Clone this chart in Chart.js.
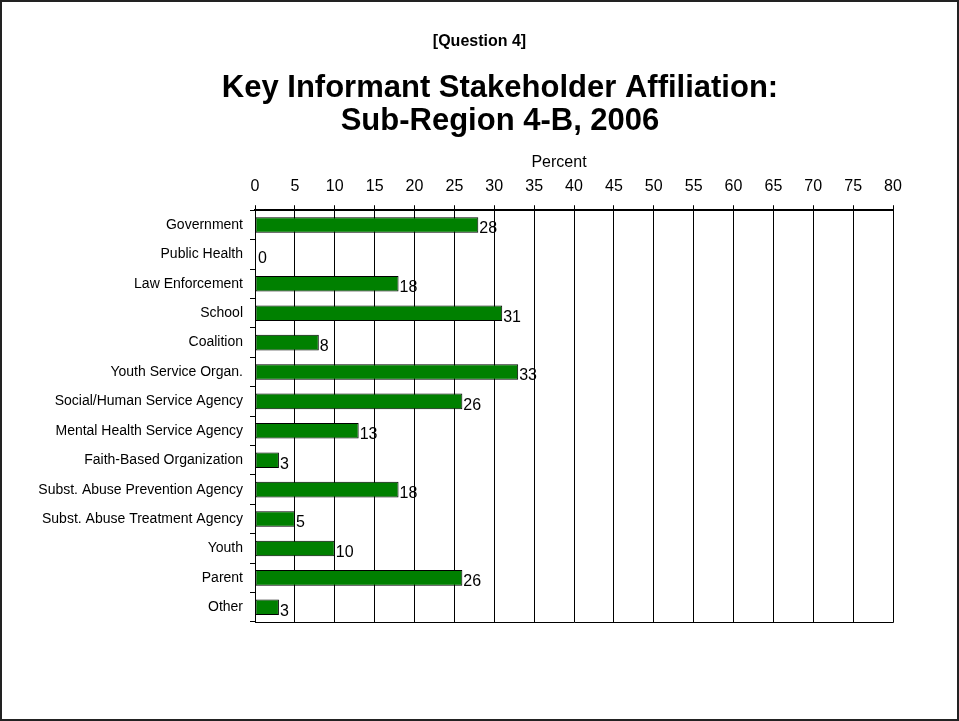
<!DOCTYPE html>
<html>
<head>
<meta charset="utf-8">
<script src="https://cdn.jsdelivr.net/npm/chart.js@4/dist/chart.umd.min.js"></script>
<style>
html,body{margin:0;padding:0;background:#fff;}
#wrap{position:absolute;left:0;top:0;width:959px;height:721px;}
</style>
</head>
<body>
<div id="wrap"><canvas id="c" width="959" height="721"></canvas></div>
<script>
const categories = [
  "Government","Public Health","Law Enforcement","School","Coalition",
  "Youth Service Organ.","Social/Human Service Agency","Mental Health Service Agency",
  "Faith-Based Organization","Subst. Abuse Prevention Agency","Subst. Abuse Treatment Agency",
  "Youth","Parent","Other"
];
const percentValues = [28,0,18,31,8,33,26,13,3,18,5,10,26,3];
const xTickValues = [0,5,10,15,20,25,30,35,40,45,50,55,60,65,70,75,80];
const questionLabel = "[Question 4]";
const titleLines = ["Key Informant Stakeholder Affiliation:","Sub-Region 4-B, 2006"];
const axisTitle = "Percent";

const FONT = "'Liberation Sans', Arial, Helvetica, sans-serif";

const decorPlugin = {
  id: 'decor',
  afterLayout(chart) {
    chart.boxes.forEach(b => {
      if (b.options && typeof b.options.text === 'string' && b.options.text === questionLabel) {
        b.left = 0; b.right = chart.width;
      } else if (b.options && Array.isArray(b.options.text)) {
        b.left = 41; b.right = chart.width;
      }
    });
    const sc = chart.scales.x;
    if (sc && !sc._shifted) {
      const orig = sc.drawTitle.bind(sc);
      sc.drawTitle = function () {
        const ctx = this.ctx;
        ctx.save();
        ctx.translate(-15, 0);
        orig();
        ctx.restore();
      };
      sc._shifted = true;
    }
  },
  afterDatasetsDraw(chart) {
    const ctx = chart.ctx;
    const area = chart.chartArea;
    ctx.save();
    const meta = chart.getDatasetMeta(0);
    ctx.font = "16px " + FONT;
    ctx.fillStyle = "#000";
    ctx.textAlign = "left";
    ctx.textBaseline = "middle";
    meta.data.forEach((bar, i) => {
      const gap = percentValues[i] === 0 ? 3 : 1;
      ctx.fillText(String(percentValues[i]), bar.x + gap, bar.y + 4);
    });
    ctx.strokeStyle = "#000";
    ctx.lineWidth = 1;
    ctx.beginPath();
    ctx.moveTo(area.left, Math.round(area.bottom) + 0.5);
    ctx.lineTo(area.right + 0.5, Math.round(area.bottom) + 0.5);
    ctx.lineTo(area.right + 0.5, area.top);
    ctx.stroke();
    ctx.lineWidth = 2;
    ctx.strokeStyle = "#222";
    ctx.strokeRect(1, 1, chart.width - 2, chart.height - 2);
    ctx.restore();
  }
};

new Chart(document.getElementById('c'), {
  type: 'bar',
  data: {
    labels: categories,
    datasets: [{
      data: percentValues,
      backgroundColor: '#008000',
      borderColor: '#000',
      borderWidth: 1,
      borderSkipped: false,
      categoryPercentage: 1,
      barPercentage: 0.53
    }]
  },
  options: {
    indexAxis: 'y',
    responsive: false,
    animation: false,
    devicePixelRatio: 1,
    layout: { padding: { left: 20, right: 66, top: 0, bottom: 99 } },
    plugins: {
      legend: { display: false },
      tooltip: { enabled: false },
      title: {
        display: true,
        text: questionLabel,
        color: '#000',
        font: { family: FONT, size: 16, weight: 'bold', lineHeight: 1.2 },
        padding: { top: 32, bottom: 0 }
      },
      subtitle: {
        display: true,
        text: titleLines,
        color: '#000',
        font: { family: FONT, size: 31, weight: 'bold', lineHeight: 1.065 },
        padding: { top: 21, bottom: 8 }
      }
    },
    scales: {
      x: {
        position: 'top',
        min: 0,
        max: 80,
        afterBuildTicks(scale) { scale.ticks = xTickValues.map(v => ({ value: v })); },
        afterFit(scale) { scale.height = 64; },
        ticks: { color: '#000', font: { family: FONT, size: 16 }, padding: 9, maxRotation: 0, autoSkip: false },
        grid: { color: '#000', lineWidth: 1, tickLength: 5, drawTicks: true },
        border: { display: true, color: '#000', width: 2 },
        title: { display: true, text: axisTitle, color: '#000', font: { family: FONT, size: 16 }, padding: { top: 7, bottom: 0 } }
      },
      y: {
        afterFit(scale) { scale.width = 235; },
        ticks: { color: '#000', font: { family: FONT, size: 14 }, padding: 7, autoSkip: false },
        grid: { drawOnChartArea: false, drawTicks: true, tickLength: 5, color: '#000', offset: true },
        border: { display: true, color: '#000', width: 1 }
      }
    }
  },
  plugins: [decorPlugin]
});
</script>
</body>
</html>
